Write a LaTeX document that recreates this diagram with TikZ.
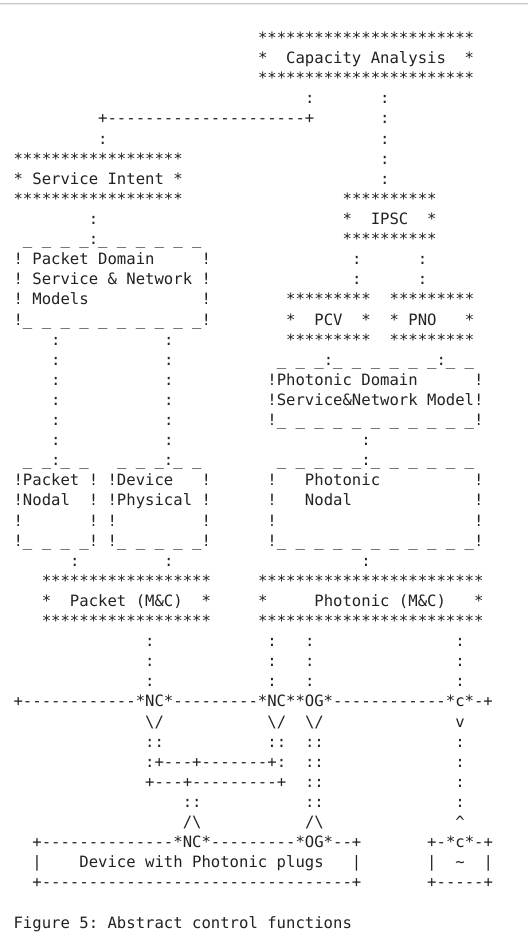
\documentclass[tikz,border=0pt]{standalone}
\usepackage{fontspec}
\setmonofont{DejaVu Sans Mono}
\definecolor{asc}{HTML}{222222}
\ExplSyntaxOn
\cs_new:Npn \myrep #1#2 { \prg_replicate:nn {#1} {#2} }
\ExplSyntaxOff
\newcommand\asciifont{\ttfamily\fontsize{15.61pt}{20pt}\selectfont}
\tikzset{txt/.style={anchor=base west,inner sep=0pt,outer sep=0pt,font=\asciifont,text=asc}}
\newcommand\seg[4]{\node[txt] (#1) at ({13.6+9.4*(#2)},{43.6+20.1*(#3)}) {#4};}
\begin{document}
\begin{tikzpicture}[x=1pt,y=-1pt]
\useasboundingbox (0,0) rectangle (528,939);
\fill[white] (0,0) rectangle (528,939);
\draw[gray!45,line width=0.8pt] (0,3.6) -- (528,3.6);
\draw[gray!15,line width=0.8pt] (0,4.5) -- (528,4.5);
% Capacity Analysis
\seg{capT}{26}{0}{\myrep{23}{*}}
\seg{cap}{26}{1}{*~~Capacity~Analysis~~*}
\seg{capB}{26}{2}{\myrep{23}{*}}
\seg{r3a}{31}{3}{:}
\seg{r3b}{39}{3}{:}
\seg{r4a}{9}{4}{+\myrep{21}{-}+}
\seg{r4b}{39}{4}{:}
\seg{r5a}{9}{5}{:}
\seg{r5b}{39}{5}{:}
% Service Intent
\seg{siT}{0}{6}{\myrep{18}{*}}
\seg{r6b}{39}{6}{:}
\seg{si}{0}{7}{*~Service~Intent~*}
\seg{r7b}{39}{7}{:}
\seg{siB}{0}{8}{\myrep{18}{*}}
\seg{ipT}{35}{8}{\myrep{10}{*}}
\seg{r9a}{8}{9}{:}
\seg{ipsc}{35}{9}{*~~IPSC~~*}
\seg{pdT}{1}{10}{\_~\_~\_~\_:\myrep{5}{\_~}\_}
\seg{ipB}{35}{10}{\myrep{10}{*}}
% Packet domain model
\seg{pd1}{0}{11}{!~Packet~Domain~~~~~!}
\seg{r11b}{36}{11}{:}
\seg{r11c}{43}{11}{:}
\seg{pd2}{0}{12}{!~Service~\&~Network~!}
\seg{r12b}{36}{12}{:}
\seg{r12c}{43}{12}{:}
\seg{pd3}{0}{13}{!~Models~~~~~~~~~~~~!}
\seg{pcvT}{29}{13}{\myrep{9}{*}}
\seg{pnoT}{40}{13}{\myrep{9}{*}}
\seg{pdB}{0}{14}{!\myrep{9}{\_~}\_!}
\seg{pcv}{29}{14}{*~~PCV~~*}
\seg{pno}{40}{14}{*~PNO~~~*}
\seg{r15a}{4}{15}{:}
\seg{r15b}{16}{15}{:}
\seg{pcvB}{29}{15}{\myrep{9}{*}}
\seg{pnoB}{40}{15}{\myrep{9}{*}}
\seg{r16a}{4}{16}{:}
\seg{r16b}{16}{16}{:}
\seg{phT}{28}{16}{\_~\_~\_:\myrep{5}{\_~}\_:\_~\_}
\seg{r17a}{4}{17}{:}
\seg{r17b}{16}{17}{:}
\seg{ph1}{27}{17}{!Photonic~Domain~~~~~~!}
\seg{r18a}{4}{18}{:}
\seg{r18b}{16}{18}{:}
\seg{ph2}{27}{18}{!Service\&Network~Model!}
\seg{r19a}{4}{19}{:}
\seg{r19b}{16}{19}{:}
\seg{phB}{27}{19}{!\myrep{10}{\_~}\_!}
\seg{r20a}{4}{20}{:}
\seg{r20b}{16}{20}{:}
\seg{r20c}{37}{20}{:}
% nodal boxes
\seg{pnT}{1}{21}{\_~\_:\_~\_}
\seg{dpT}{11}{21}{\_~\_~\_:\_~\_}
\seg{nnT}{28}{21}{\myrep{4}{\_~}\_:\myrep{5}{\_~}\_}
\seg{pn1}{0}{22}{!Packet~!}
\seg{dp1}{10}{22}{!Device~~~!}
\seg{nn1}{27}{22}{!~~~Photonic~~~~~~~~~~!}
\seg{pn2}{0}{23}{!Nodal~~!}
\seg{dp2}{10}{23}{!Physical~!}
\seg{nn2}{27}{23}{!~~~Nodal~~~~~~~~~~~~~!}
\seg{r24a}{0}{24}{!}
\seg{r24b}{8}{24}{!}
\seg{r24c}{10}{24}{!}
\seg{r24d}{20}{24}{!}
\seg{r24e}{27}{24}{!}
\seg{r24f}{49}{24}{!}
\seg{pnB}{0}{25}{!\_~\_~\_~\_!}
\seg{dpB}{10}{25}{!\myrep{4}{\_~}\_!}
\seg{nnB}{27}{25}{!\myrep{10}{\_~}\_!}
\seg{r26a}{6}{26}{:}
\seg{r26b}{16}{26}{:}
\seg{r26c}{37}{26}{:}
% M&C
\seg{pmT}{3}{27}{\myrep{18}{*}}
\seg{omT}{26}{27}{\myrep{24}{*}}
\seg{pm}{3}{28}{*~~Packet~(M\&C)~~*}
\seg{om}{26}{28}{*~~~~~Photonic~(M\&C)~~~*}
\seg{pmB}{3}{29}{\myrep{18}{*}}
\seg{omB}{26}{29}{\myrep{24}{*}}
\foreach \r in {30,31,32}{
  \seg{c14r\r}{14}{\r}{:}
  \seg{c27r\r}{27}{\r}{:}
  \seg{c31r\r}{31}{\r}{:}
  \seg{c47r\r}{47}{\r}{:}
}
\seg{bus}{0}{33}{+\myrep{12}{-}*NC*\myrep{9}{-}*NC**OG*\myrep{12}{-}*c*-+}
\seg{v1}{14}{34}{\textbackslash/}
\seg{v2}{27}{34}{\textbackslash/}
\seg{v3}{31}{34}{\textbackslash/}
\seg{v4}{47}{34}{v}
\seg{d1}{14}{35}{::}
\seg{d2}{27}{35}{::}
\seg{d3}{31}{35}{::}
\seg{d4}{47}{35}{:}
\seg{x1}{14}{36}{:+---+\myrep{7}{-}+:}
\seg{x2}{31}{36}{::}
\seg{x3}{47}{36}{:}
\seg{y1}{14}{37}{+---+\myrep{9}{-}+}
\seg{y2}{31}{37}{::}
\seg{y3}{47}{37}{:}
\seg{z1}{18}{38}{::}
\seg{z2}{31}{38}{::}
\seg{z3}{47}{38}{:}
\seg{u1}{18}{39}{/\textbackslash}
\seg{u2}{31}{39}{/\textbackslash}
\seg{u3}{47}{39}{\textasciicircum}
% device boxes
\seg{devT}{2}{40}{+\myrep{14}{-}*NC*\myrep{9}{-}*OG*--+}
\seg{cT}{44}{40}{+-*c*-+}
\seg{dev}{2}{41}{|~~~~Device~with~Photonic~plugs~~~|}
\seg{cM}{44}{41}{|~~\textasciitilde~~|}
\seg{devB}{2}{42}{+\myrep{33}{-}+}
\seg{cB}{44}{42}{+-----+}
\seg{cap5}{0}{44}{Figure~5:~Abstract~control~functions}
\end{tikzpicture}
\end{document}
